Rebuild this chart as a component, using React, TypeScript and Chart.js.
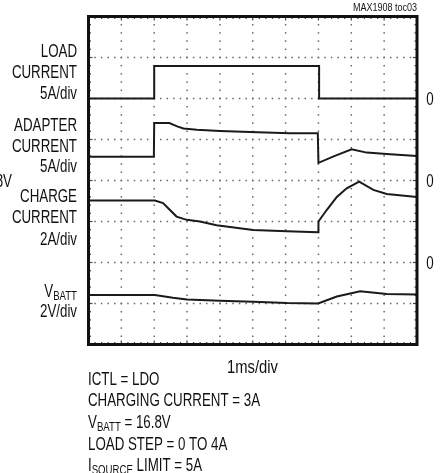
import React, { useEffect, useRef } from "react";
import { Chart, registerables } from "chart.js";

Chart.register(...registerables);

// Oscilloscope divisions: x 0..10 (1ms/div), y 0..8 divisions
const xDivisions = 10;
const yDivisions = 8;

const loadX = [0, 2.0, 2.0, 7.02, 7.02, 10];
const loadY = [6.0, 6.0, 6.79, 6.79, 6.0, 6.0];

const adapterX = [0, 1.99, 2.0, 2.46, 2.7, 2.89, 3.3, 4.0, 4.92, 6.13, 6.98, 7.0, 7.5, 8.01, 8.47, 9.18, 10];
const adapterY = [4.58, 4.58, 5.4, 5.4, 5.32, 5.27, 5.24, 5.21, 5.18, 5.15, 5.15, 4.43, 4.6, 4.76, 4.68, 4.64, 4.6];

const chargeX = [0, 2.02, 2.27, 2.48, 2.68, 2.99, 3.39, 3.9, 5.01, 6.04, 6.99, 7.0, 7.25, 7.56, 7.86, 8.24, 8.67, 9.08, 10];
const chargeY = [3.51, 3.51, 3.45, 3.28, 3.12, 3.04, 3.0, 2.91, 2.79, 2.76, 2.74, 3.0, 3.28, 3.6, 3.81, 3.97, 3.77, 3.67, 3.6];

const vbattX = [0, 2.02, 2.57, 3.0, 4.0, 5.01, 6.04, 6.99, 7.56, 8.27, 9.08, 10];
const vbattY = [1.21, 1.21, 1.14, 1.1, 1.07, 1.04, 1.01, 1.0, 1.17, 1.3, 1.23, 1.22];

const zeroLevels = [6, 4, 2];

const FONT = '"Liberation Sans", Arial, sans-serif';
const SX = 0.74;

type Seg = { t: string; sub?: boolean };

function drawRich(ctx: CanvasRenderingContext2D, segs: Seg[], x: number, y: number, align: "left" | "right" | "center", size = 18, sx = SX) {
  const subSize = Math.round(size * 0.72);
  let total = 0;
  const widths = segs.map((s) => {
    ctx.font = `${s.sub ? subSize : size}px ${FONT}`;
    const w = ctx.measureText(s.t).width * sx;
    total += w;
    return w;
  });
  let cx = align === "left" ? x : align === "right" ? x - total : x - total / 2;
  ctx.textAlign = "left";
  ctx.textBaseline = "alphabetic";
  segs.forEach((s, i) => {
    ctx.save();
    ctx.translate(cx, y + (s.sub ? 3 : 0));
    ctx.scale(sx, 1);
    ctx.font = `${s.sub ? subSize : size}px ${FONT}`;
    ctx.fillText(s.t, 0, 0);
    ctx.restore();
    cx += widths[i];
  });
}

const toDataset = (xs: number[], ys: number[]) => xs.map((x, i) => ({ x, y: ys[i] }));

export default function App() {
  const ref = useRef<HTMLCanvasElement | null>(null);
  useEffect(() => {
    if (!ref.current) return;
    const scopePlugin = {
      id: "scope",
      beforeDatasetsDraw(chart: any) {
        const { ctx } = chart;
        const xs = chart.scales.x;
        const ys = chart.scales.y;
        ctx.save();
        ctx.fillStyle = "#666";
        // horizontal dotted lines
        for (let j = 1; j < yDivisions; j++) {
          const py = ys.getPixelForValue(j);
          for (let k = 0; k <= xDivisions * 5; k++) {
            const px = xs.getPixelForValue(k / 5);
            ctx.fillRect(px - 0.75, py - 0.75, 1.5, 1.5);
          }
        }
        // vertical dotted lines
        for (let i = 1; i < xDivisions; i++) {
          const px = xs.getPixelForValue(i);
          for (let k = 0; k <= yDivisions * 5; k++) {
            const py = ys.getPixelForValue(k / 5);
            ctx.fillRect(px - 0.75, py - 0.75, 1.5, 1.5);
          }
        }
        // edge ticks
        ctx.fillStyle = "#444";
        for (let k = 0; k <= xDivisions * 5; k++) {
          const px = xs.getPixelForValue(k / 5);
          const len = k % 5 === 0 ? 4 : 2.5;
          ctx.fillRect(px - 0.6, ys.getPixelForValue(0) - len, 1.2, len);
          ctx.fillRect(px - 0.6, ys.getPixelForValue(yDivisions), 1.2, len);
        }
        for (let k = 0; k <= yDivisions * 5; k++) {
          const py = ys.getPixelForValue(k / 5);
          const len = k % 5 === 0 ? 4 : 2.5;
          ctx.fillRect(xs.getPixelForValue(0), py - 0.6, len, 1.2);
          ctx.fillRect(xs.getPixelForValue(xDivisions) - len, py - 0.6, len, 1.2);
        }
        ctx.restore();
      },
      afterDraw(chart: any) {
        const { ctx } = chart;
        const xs = chart.scales.x;
        const ys = chart.scales.y;
        const l = xs.getPixelForValue(0);
        const r = xs.getPixelForValue(xDivisions);
        const t = ys.getPixelForValue(yDivisions);
        const b = ys.getPixelForValue(0);
        ctx.save();
        ctx.strokeStyle = "#111";
        ctx.lineWidth = 3;
        ctx.strokeRect(l, t, r - l, b - t);
        ctx.fillStyle = "#111";
        // left labels
        drawRich(ctx, [{ t: "LOAD" }], 77, 57, "right");
        drawRich(ctx, [{ t: "CURRENT" }], 77, 78, "right");
        drawRich(ctx, [{ t: "5A/div" }], 77, 99, "right");
        drawRich(ctx, [{ t: "ADAPTER" }], 77, 131, "right");
        drawRich(ctx, [{ t: "CURRENT" }], 77, 152, "right");
        drawRich(ctx, [{ t: "5A/div" }], 77, 172, "right");
        drawRich(ctx, [{ t: "16.8V" }], 12, 187, "right");
        drawRich(ctx, [{ t: "CHARGE" }], 77, 202, "right");
        drawRich(ctx, [{ t: "CURRENT" }], 77, 223, "right");
        drawRich(ctx, [{ t: "2A/div" }], 77, 245, "right");
        drawRich(ctx, [{ t: "V" }, { t: "BATT", sub: true }], 77, 297, "right");
        drawRich(ctx, [{ t: "2V/div" }], 77, 317, "right");
        // zero markers
        zeroLevels.forEach((z) => {
          drawRich(ctx, [{ t: "0" }], 430, ys.getPixelForValue(z) + 6.5, "center");
        });
        // top-right id
        drawRich(ctx, [{ t: "MAX1908 toc03" }], 417, 11, "right", 10, 0.9);
        // x axis scale
        drawRich(ctx, [{ t: "1ms/div" }], 252.5, 372.5, "center", 18, 0.82);
        // notes
        drawRich(ctx, [{ t: "ICTL = LDO" }], 88, 385, "left");
        drawRich(ctx, [{ t: "CHARGING CURRENT = 3A" }], 88, 406, "left");
        drawRich(ctx, [{ t: "V" }, { t: "BATT", sub: true }, { t: " = 16.8V" }], 88, 428, "left");
        drawRich(ctx, [{ t: "LOAD STEP = 0 TO 4A" }], 88, 449.5, "left");
        drawRich(ctx, [{ t: "I" }, { t: "SOURCE", sub: true }, { t: " LIMIT = 5A" }], 88, 471, "left");
        ctx.restore();
      },
    };

    const traceStyle = {
      borderColor: "#1a1a1a",
      borderWidth: 2,
      pointRadius: 0,
      showLine: true,
      fill: false,
      tension: 0,
    };

    const chart = new Chart(ref.current, {
      type: "scatter",
      data: {
        datasets: [
          { label: "Load current", data: toDataset(loadX, loadY), ...traceStyle },
          { label: "Adapter current", data: toDataset(adapterX, adapterY), ...traceStyle },
          { label: "Charge current", data: toDataset(chargeX, chargeY), ...traceStyle },
          { label: "VBATT", data: toDataset(vbattX, vbattY), ...traceStyle },
        ],
      },
      options: {
        animation: false,
        responsive: true,
        maintainAspectRatio: false,
        devicePixelRatio: 1,
        layout: { padding: { left: 88.5, top: 16.5, right: 23, bottom: 128.5 } },
        plugins: { legend: { display: false }, tooltip: { enabled: false } },
        scales: {
          x: { type: "linear", min: 0, max: xDivisions, display: false },
          y: { type: "linear", min: 0, max: yDivisions, display: false },
        },
      },
      plugins: [scopePlugin],
    });
    return () => chart.destroy();
  }, []);

  return (
    <div style={{ position: "absolute", left: 0, top: 0, width: 440, height: 473, background: "#fff" }}>
      <canvas ref={ref} />
    </div>
  );
}
